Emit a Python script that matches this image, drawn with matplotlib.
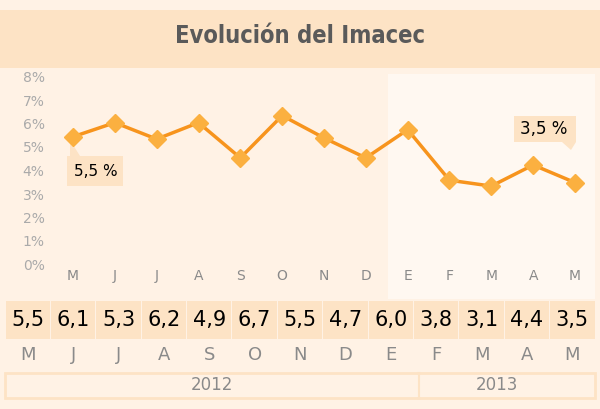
import matplotlib.pyplot as plt
from matplotlib.patches import Rectangle, Polygon

months = ['M', 'J', 'J', 'A', 'S', 'O', 'N', 'D', 'E', 'F', 'M', 'A', 'M']
imacec = [5.5, 6.1, 5.4, 6.1, 4.6, 6.4, 5.45, 4.6, 5.8, 3.65, 3.4, 4.3, 3.55]
table_vals = ['5,5', '6,1', '5,3', '6,2', '4,9', '6,7', '5,5', '4,7', '6,0', '3,8', '3,1', '4,4', '3,5']
y_ticks = [0, 1, 2, 3, 4, 5, 6, 7, 8]
years = ['2012', '2013']

bg = '#fff2e5'
band = '#fde3c5'
orange = '#f7941d'
marker_c = '#fbb040'
grey = '#8a8a8a'

fig = plt.figure(figsize=(6, 4.09), dpi=100, facecolor=bg)

# page layer in pixel coordinates
pg = fig.add_axes([0, 0, 1, 1])
pg.set_xlim(0, 600)
pg.set_ylim(409, 0)
pg.axis('off')
pg.add_patch(Rectangle((0, 10), 600, 58, color=band, lw=0))
pg.text(300, 36, 'Evolución del Imacec', ha='center', va='center', fontsize=17,
        fontweight='bold', color='#5a5a5a', family='DejaVu Sans', stretch='condensed')
pg.add_patch(Rectangle((388, 74), 207, 225, color='#fff8f1', lw=0))

# table row
n = len(table_vals)
x0, w = 5, 590 / n
for i, v in enumerate(table_vals):
    pg.add_patch(Rectangle((x0 + i * w + 0.5, 301), w - 1, 38, color=band, lw=0))
    pg.text(x0 + (i + 0.5) * w, 320, v, ha='center', va='center', fontsize=15, color='black')
    pg.text(x0 + (i + 0.5) * w, 355, months[i], ha='center', va='center', fontsize=13, color=grey)

# year row
pg.add_patch(Rectangle((5, 373), 590, 25, fill=False, ec='#fde3c5', lw=2))
pg.plot([419, 419], [373, 398], color='#fde3c5', lw=1.5)
pg.text(212, 385, years[0], ha='center', va='center', fontsize=12, color=grey)
pg.text(497, 385, years[1], ha='center', va='center', fontsize=12, color=grey)

# line chart
ax = fig.add_axes([73 / 600, (409 - 266) / 409, (575 - 73) / 600, 188 / 409])
ax.patch.set_alpha(0)
ax.set_xlim(0, len(months) - 1)
ax.set_ylim(0, 8)
ax.axis('off')
xs = list(range(len(months)))
ax.plot(xs, imacec, color=orange, lw=2.5, clip_on=False, zorder=3)
ax.plot(xs, imacec, ls='none', marker='D', ms=9, color=marker_c, clip_on=False, zorder=4)
for t in y_ticks:
    ax.text(-0.68, t, f'{t}%', ha='right', va='center', fontsize=10, color='#aaaaaa')
for i, m in enumerate(months):
    ax.text(i, -0.42, m, ha='center', va='center', fontsize=10, color=grey)

# callouts
pg.add_patch(Rectangle((67, 156), 56, 30, color=band, lw=0))
pg.add_patch(Polygon([[70, 140], [70, 156], [80, 156]], color=band, lw=0))
pg.text(96, 171, '5,5 %', ha='center', va='center', fontsize=11, color='black')
pg.add_patch(Rectangle((514, 116), 62, 26, color=band, lw=0))
pg.add_patch(Polygon([[562, 142], [576, 142], [571, 150]], color=band, lw=0))
pg.text(544, 129, '3,5 %', ha='center', va='center', fontsize=12, color='black')

fig.savefig('out.png', dpi=100, facecolor=bg)
